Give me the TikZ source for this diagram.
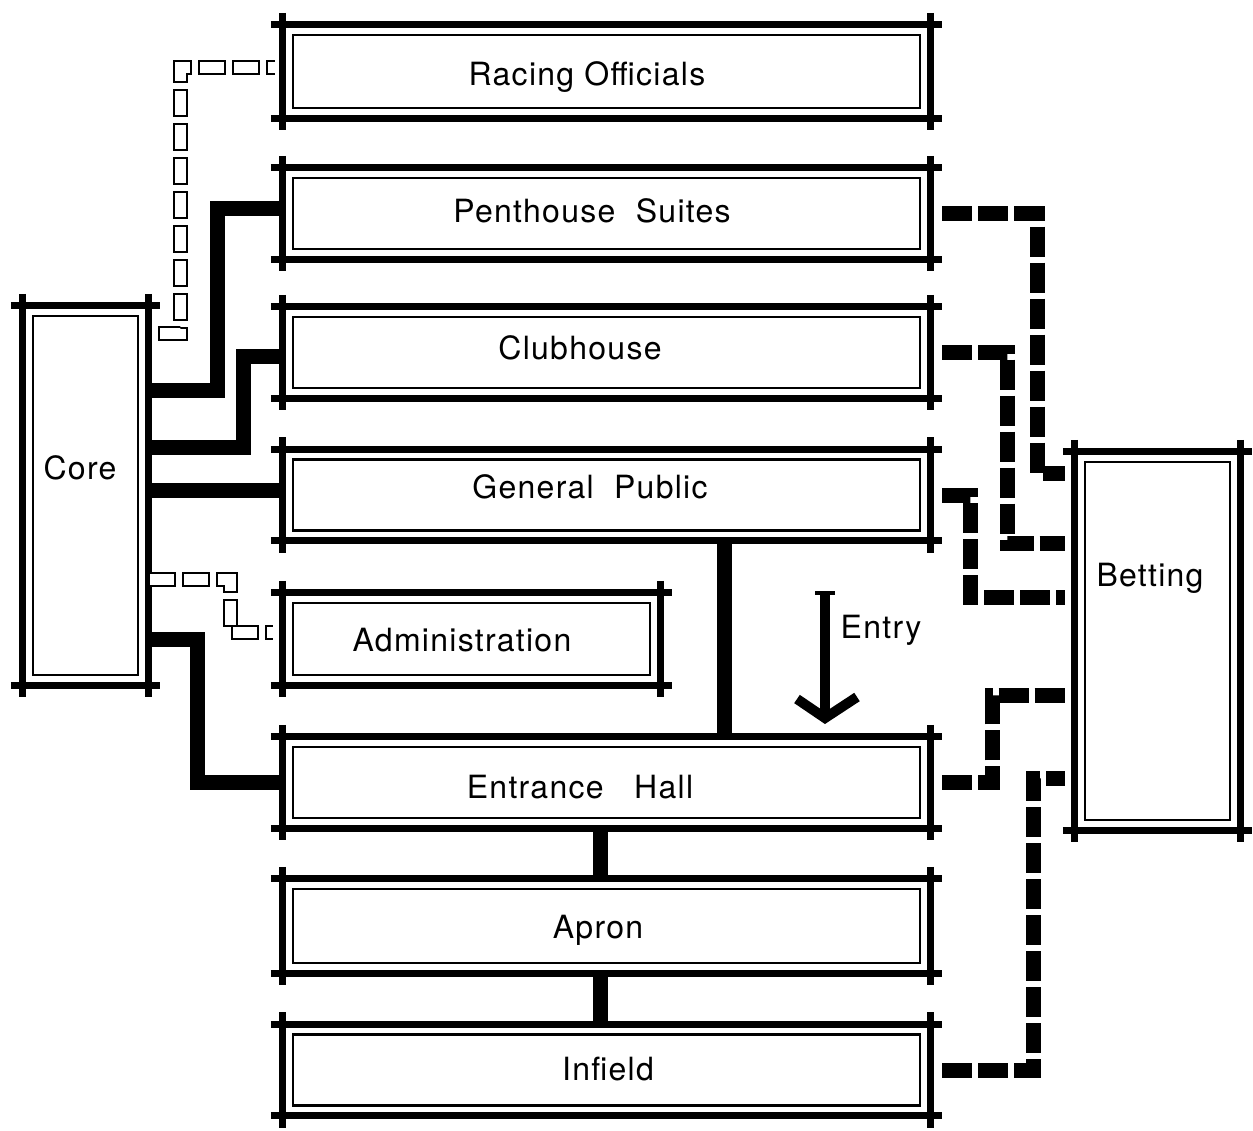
\documentclass[tikz,border=0pt]{standalone}
\usepackage{fontspec}
\newfontfamily\roomfont{TeX Gyre Heros}[LetterSpace=4]

\begin{document}
\begin{tikzpicture}[x=1pt,y=-1pt,
  room/.style={inner sep=0pt, minimum width=647pt, minimum height=91pt},
  frame/.style={line width=7pt},
  lining/.style={line width=2.5pt},
  tag/.style={font=\roomfont\fontsize{32}{38}\selectfont, text height=23pt, text depth=0pt, inner sep=0pt},
  link/.style={line width=15pt},
  betlink/.style={line width=15pt, dash pattern=on 30pt off 6pt},
  svcout/.style={draw=black, line width=15pt, dash pattern=on 28pt off 6pt, dash phase=0pt},
  svclink/.style={draw=white, line width=11pt, dash pattern=on 24pt off 10pt, dash phase=32pt, preaction={svcout}}]
\useasboundingbox (0,0) rectangle (1253,1130);

% rooms (outer frame size)
\node[room, minimum height=93pt] (racing) at (606.5,71.5) {};
\node[room] (penthouse) at (606.5,213.5) {};
\node[room] (clubhouse) at (606.5,352.5) {};
\node[room] (public) at (606.5,495) {};
\node[room, minimum width=377pt, minimum height=92pt] (admin) at (471.5,639) {};
\node[room] (entrance) at (606.5,782.5) {};
\node[room, minimum height=94pt] (apron) at (606.5,926) {};
\node[room] (infield) at (606.5,1070) {};
\node[room, minimum width=125pt, minimum height=379pt] (core) at (85.5,495.5) {};
\node[room, minimum width=165pt, minimum height=378pt] (betting) at (1157.5,641) {};

\foreach \r in {racing,penthouse,clubhouse,public,admin,entrance,apron,infield,core,betting}{
  \draw[frame] ([xshift=-12pt]\r.north west) -- ([xshift=12pt]\r.north east)
               ([xshift=-12pt]\r.south west) -- ([xshift=12pt]\r.south east)
               ([yshift=12pt]\r.north west) -- ([yshift=-12pt]\r.south west)
               ([yshift=12pt]\r.north east) -- ([yshift=-12pt]\r.south east);
  \draw[lining] ([shift={(10pt,-10pt)}]\r.north west) rectangle ([shift={(-10pt,10pt)}]\r.south east);
}

% labels
\node[tag] (racing-t) at (587,74) {Racing Officials};
\node[tag] (penthouse-t) at (592,211) {Penthouse~~Suites};
\node[tag] (clubhouse-t) at (580,348) {Clubhouse};
\node[tag] (public-t) at (590,487) {General~~Public};
\node[tag] (admin-t) at (462,640) {Administration};
\node[tag] (entrance-t) at (580,787) {Entrance~~~Hall};
\node[tag] (apron-t) at (598,927) {Apron};
\node[tag] (infield-t) at (608,1069) {Infield};
\node[tag] (core-t) at (80,468) {Core};
\node[tag] (betting-t) at (1150,575) {Betting};
\node[tag] (entry) at (881,627) {Entry};

% solid links
\draw[link] (core.east |- 0,390) -- (217,390) -- (217,208) -- (penthouse.west |- 0,208);
\draw[link] (core.east |- 0,447) -- (243,447) -- (243,356) -- (clubhouse.west |- 0,356);
\draw[link] (core.east |- 0,490) -- (public.west |- 0,490);
\draw[link] (core.east |- 0,639) -- (197,639) -- (197,782) -- (entrance.west |- 0,782);
\draw[link] (public.south -| 724,0) -- (entrance.north -| 724,0);
\draw[link] (entrance.south -| 600,0) -- (apron.north -| 600,0);
\draw[link] (apron.south -| 600,0) -- (infield.north -| 600,0);

% betting links
\draw[betlink] ([xshift=12pt]penthouse.east) -| (1037,473) -- ([xshift=-10pt]betting.west |- 0,473);
\draw[betlink] ([xshift=12pt]clubhouse.east) -| (1007,543) -- ([xshift=-10pt]betting.west |- 0,543);
\draw[betlink] ([xshift=12pt]public.east) -| (970,597) -- ([xshift=-10pt]betting.west |- 0,597);
\draw[betlink] ([xshift=12pt]entrance.east) -| (992,695) -- ([xshift=-10pt]betting.west |- 0,695);
\draw[betlink] ([xshift=12pt]infield.east) -| (1033,778) -- ([xshift=-10pt]betting.west |- 0,778);

% service links
\draw[svclink] ([xshift=10pt]core.east |- 0,333) -- (180,333) -- (180,67) -- ([xshift=-8pt]racing.west |- 0,67);
\draw[svclink] (core.east |- 0,579) -- (230,579) -- (230,632) -- ([xshift=-10pt]admin.west |- 0,632);

% entry arrow
\coordinate (entry-tail) at (825,592);
\coordinate (entry-tip) at (825,718);
\draw[line width=10pt] (entry-tail) -- (entry-tip);
\draw[line width=10pt] (797,699) -- (entry-tip) -- (857,697);
\draw[line width=4pt] (815,593) -- (835,593);
\end{tikzpicture}
\end{document}
